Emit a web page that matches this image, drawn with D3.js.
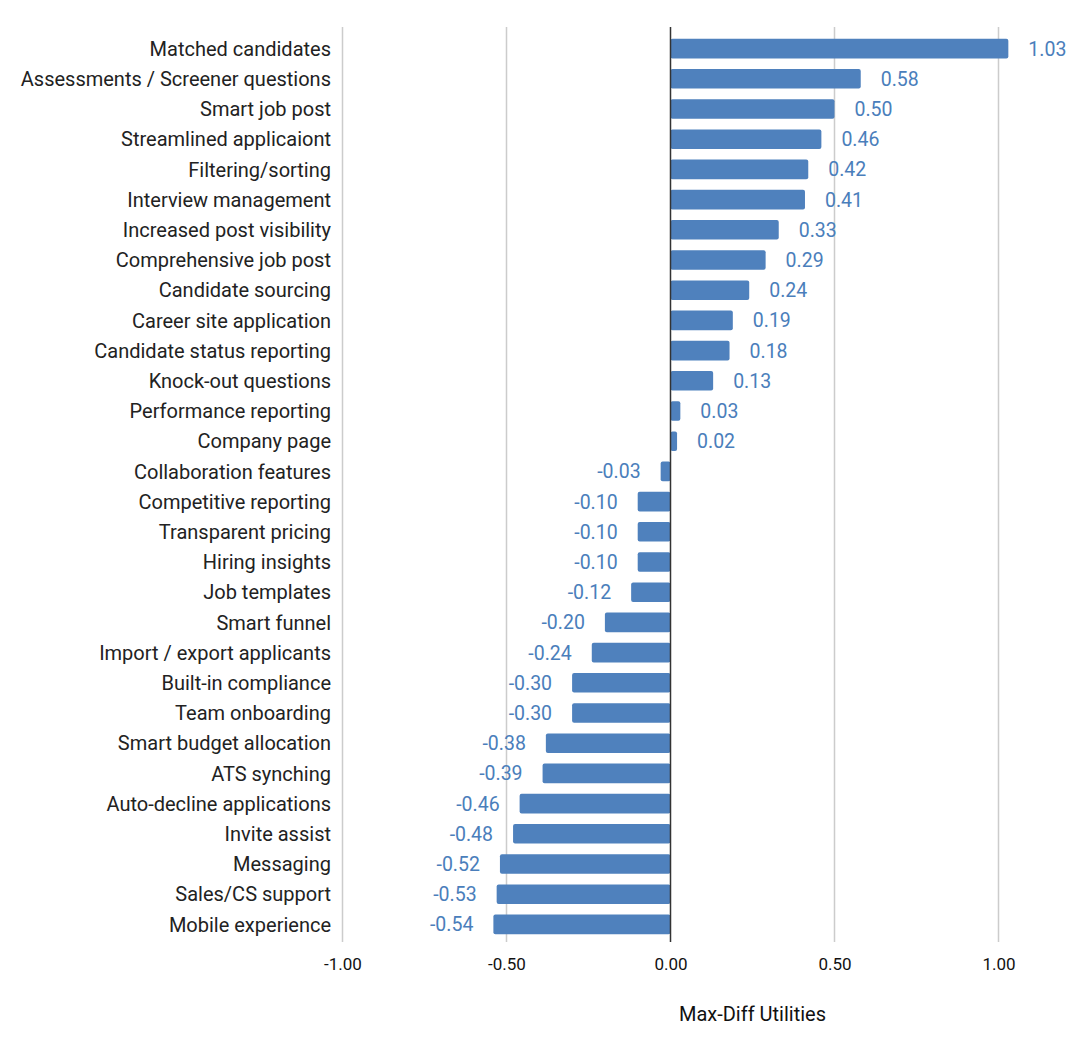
<!DOCTYPE html>
<html>
<head>
<meta charset="utf-8">
<script src="https://cdn.jsdelivr.net/npm/d3@7"></script>
<style>
    body { margin: 0; background: #fff; }
    text { font-family: Roboto, "Noto Sans", sans-serif; }
</style>
</head>
<body>
<div id="chart"></div>
<script>
const categories = ["Matched candidates", "Assessments / Screener questions", "Smart job post", "Streamlined applicaiont",
    "Filtering/sorting", "Interview management", "Increased post visibility", "Comprehensive job post",
    "Candidate sourcing", "Career site application", "Candidate status reporting", "Knock-out questions",
    "Performance reporting", "Company page", "Collaboration features", "Competitive reporting",
    "Transparent pricing", "Hiring insights", "Job templates", "Smart funnel", "Import / export applicants",
    "Built-in compliance", "Team onboarding", "Smart budget allocation", "ATS synching",
    "Auto-decline applications", "Invite assist", "Messaging", "Sales/CS support", "Mobile experience"];
const utilities = [1.03, 0.58, 0.50, 0.46, 0.42, 0.41, 0.33, 0.29, 0.24, 0.19, 0.18, 0.13, 0.03, 0.02,
    -0.03, -0.10, -0.10, -0.10, -0.12, -0.20, -0.24, -0.30, -0.30, -0.38, -0.39, -0.46, -0.48, -0.52, -0.53, -0.54];
const xTicks = [-1, -0.5, 0, 0.5, 1];
const axisTitle = "Max-Diff Utilities";

const width = 1079, height = 1040,
    barColor = "#4f81bd",
    labelColor = "#4a7ebb";

// plain hyphen for negatives, like the original
const fmt = v => v.toFixed(2);

const data = categories.map((name, i) => ({name: name, value: utilities[i]}));

const svg = d3.select("#chart")
    .append("svg")
    .attr("width", width)
    .attr("height", height);

// scales
const x = d3.scaleLinear()
    .domain([-1, 1])
    .range([342.5, 998.5]);

const y = d3.scaleBand()
    .domain(categories)
    .range([33.5, 939.5])
    .paddingInner(0.35)
    .paddingOuter(0.175);

const gridTop = 27, gridBottom = 942;

// vertical grid lines
svg.append("g")
    .selectAll("line")
    .data(xTicks.filter(t => t !== 0))
    .enter()
    .append("line")
    .attr("x1", d => x(d))
    .attr("x2", d => x(d))
    .attr("y1", gridTop)
    .attr("y2", gridBottom)
    .attr("stroke", "#cccccc")
    .attr("stroke-width", 1.5);

// bars
svg.append("g")
    .selectAll("rect")
    .data(data)
    .enter()
    .append("rect")
    .attr("x", d => Math.min(x(0), x(d.value)))
    .attr("y", d => y(d.name))
    .attr("width", d => Math.abs(x(d.value) - x(0)))
    .attr("height", y.bandwidth())
    .attr("rx", 2)
    .attr("fill", barColor);

// zero line
svg.append("line")
    .attr("x1", x(0))
    .attr("x2", x(0))
    .attr("y1", gridTop)
    .attr("y2", gridBottom)
    .attr("stroke", "#333333")
    .attr("stroke-width", 1.5);

// value labels
svg.append("g")
    .selectAll("text")
    .data(data)
    .enter()
    .append("text")
    .attr("x", d => d.value >= 0 ? x(d.value) + 20 : x(d.value) - 20)
    .attr("y", d => y(d.name) + y.bandwidth() / 2)
    .attr("dy", "0.36em")
    .attr("text-anchor", d => d.value >= 0 ? "start" : "end")
    .attr("fill", labelColor)
    .style("font-size", "19.5px")
    .text(d => fmt(d.value));

// category labels
const yAxis = svg.append("g")
    .attr("transform", "translate(342,0)")
    .call(d3.axisLeft(y).tickSize(0).tickPadding(11));
yAxis.select(".domain").remove();
yAxis.selectAll("text")
    .attr("fill", "#222222")
    .attr("dy", "0.36em")
    .style("font-size", "20px")
    .style("font-family", "Roboto, sans-serif");

// x axis tick labels
const xAxis = svg.append("g")
    .attr("transform", `translate(0,${gridBottom})`)
    .call(d3.axisBottom(x).tickValues(xTicks).tickFormat(fmt).tickSize(0).tickPadding(16));
xAxis.select(".domain").remove();
xAxis.selectAll("text")
    .attr("fill", "#111111")
    .style("font-size", "17px")
    .style("font-family", "Roboto, sans-serif");

// axis title
svg.append("text")
    .attr("x", x(0.25))
    .attr("y", 1014)
    .attr("dy", "0.35em")
    .attr("text-anchor", "middle")
    .attr("fill", "#111111")
    .style("font-size", "20px")
    .text(axisTitle);
</script>
</body>
</html>
